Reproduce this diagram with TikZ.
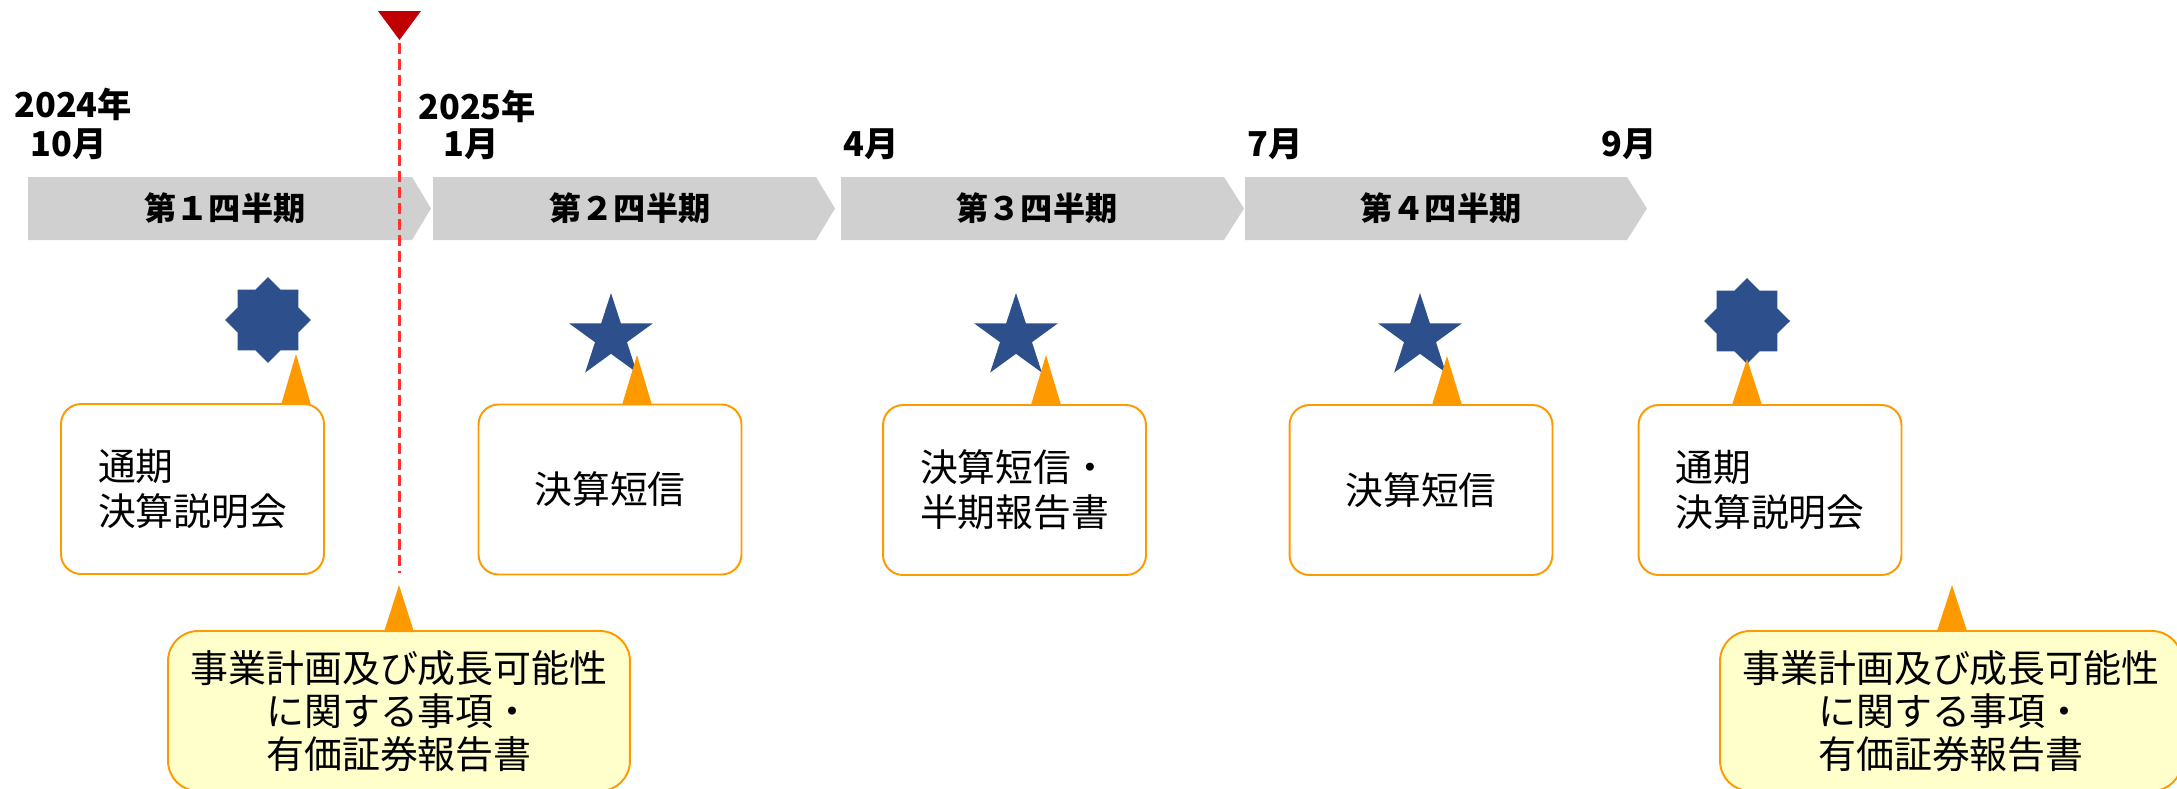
\documentclass[tikz,border=0pt]{standalone}
\usepackage{fontspec}
\setmainfont{Noto Sans CJK JP}
\usepackage{xcolor}
\usepackage{tikz}
\usetikzlibrary{shapes.geometric}

\definecolor{bargray}{RGB}{208,208,208}
\definecolor{starblue}{RGB}{45,80,140}
\definecolor{calloutorange}{RGB}{255,153,0}
\definecolor{noteyellow}{RGB}{255,255,204}
\definecolor{markerred}{RGB}{192,0,0}
\definecolor{todayred}{RGB}{255,51,51}

\begin{document}
\begin{tikzpicture}[x=0.02cm, y=-0.02cm,
    month/.style={anchor=west, inner sep=0pt, font=\fontsize{19.5}{22}\selectfont\bfseries},
    quarter/.style={inner sep=0pt, font=\fontsize{18.3}{21}\selectfont\bfseries},
    eventbox/.style={draw=calloutorange, line width=1.1pt, fill=white, rounded corners=0.4cm, minimum width=5.26cm, minimum height=3.4cm, align=left, font=\fontsize{21.5}{25.5}\selectfont},
    notebox/.style={draw=calloutorange, line width=1.1pt, fill=noteyellow, rounded corners=0.6cm, minimum width=9.24cm, minimum height=3.2cm, align=center, font=\fontsize{21.6}{24.4}\selectfont},
    kessan/.style={star, star points=5, star point ratio=2.618, fill=starblue, inner sep=0pt, minimum size=1.76cm},
    setsumei/.style={star, star points=8, star point ratio=1.31, fill=starblue, inner sep=0pt, minimum size=1.72cm}]
    \useasboundingbox (0,0) rectangle (2177,788);

    % quarter bars
    \fill[bargray] (28,177) -- (412,177) -- (431,208.5) -- (412,240) -- (28,240) -- cycle;
    \fill[bargray] (433,177) -- (816,177) -- (835,208.5) -- (816,240) -- (433,240) -- cycle;
    \fill[bargray] (841,177) -- (1224,177) -- (1244,208.5) -- (1224,240) -- (841,240) -- cycle;
    \fill[bargray] (1245,177) -- (1627,177) -- (1647,208.5) -- (1627,240) -- (1245,240) -- cycle;
    \node[quarter] (q1) at (225,208.5) {第１四半期};
    \node[quarter] (q2) at (630,208.5) {第２四半期};
    \node[quarter] (q3) at (1037,208.5) {第３四半期};
    \node[quarter] (q4) at (1441,208.5) {第４四半期};

    % months
    \node[month] (y2024) at (14,104) {2024年};
    \node[month] (oct) at (30,144) {10月};
    \node[month] (y2025) at (418,106) {2025年};
    \node[month] (jan) at (443,144) {1月};
    \node[month] (apr) at (843,144) {4月};
    \node[month] (jul) at (1247,144) {7月};
    \node[month] (sep) at (1601,144) {9月};

    % events
    \node[setsumei] (s1) at (268,320) {};
    \node[kessan] (s2) at (611,337) {};
    \node[kessan] (s3) at (1016,337) {};
    \node[kessan] (s4) at (1420,337) {};
    \node[setsumei] (s5) at (1747,321) {};

    \node[eventbox] (b1) at (192.5,489) {通期\\決算説明会};
    \node[eventbox] (b2) at (610,489.5) {決算短信};
    \node[eventbox] (b3) at (1014.5,490) {決算短信・\\半期報告書};
    \node[eventbox] (b4) at (1421,490) {決算短信};
    \node[eventbox] (b5) at (1770,490) {通期\\決算説明会};

    \fill[calloutorange] (281,405) -- (296,354) -- (311,405) -- cycle;
    \fill[calloutorange] (622,405) -- (637,355) -- (652,405) -- cycle;
    \fill[calloutorange] (1031,405) -- (1046,355) -- (1061,405) -- cycle;
    \fill[calloutorange] (1432,405) -- (1447,356) -- (1462,405) -- cycle;
    \fill[calloutorange] (1732,405) -- (1747,359) -- (1762,405) -- cycle;

    % disclosure notes
    \node[notebox] (n1) at (399,711) {事業計画及び成長可能性\\に関する事項・\\有価証券報告書};
    \node[notebox] (n2) at (1951,711) {事業計画及び成長可能性\\に関する事項・\\有価証券報告書};
    \fill[calloutorange] (384,632) -- (399,585) -- (414,632) -- cycle;
    \fill[calloutorange] (1937,631) -- (1952,585) -- (1967,631) -- cycle;

    % today marker
    \fill[markerred] (378,11) -- (421,11) -- (399.5,40) -- cycle;
    \coordinate (today) at (399.5,43);
    \coordinate (todayend) at (399.5,573);
    \draw[todayred, line width=2.1pt, dash pattern=on 6.3pt off 2.8pt] (today) -- (todayend);
\end{tikzpicture}
\end{document}
